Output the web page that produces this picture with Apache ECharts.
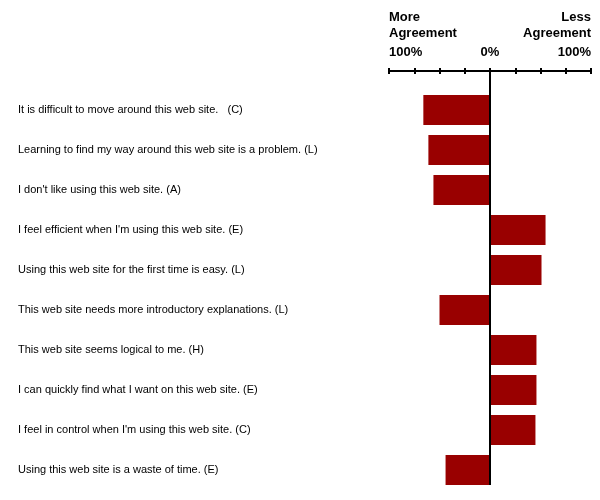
<!DOCTYPE html>
<html>
<head>
<meta charset="utf-8">
<script src="https://cdn.jsdelivr.net/npm/echarts@6/dist/echarts.min.js"></script>
<style>html,body{margin:0;padding:0;background:#fff}#c{width:600px;height:500px}</style>
</head>
<body>
<div id="c"></div>
<script>
var categories = [
  "It is difficult to move around this web site.   (C)",
  "Learning to find my way around this web site is a problem. (L)",
  "I don't like using this web site. (A)",
  "I feel efficient when I'm using this web site. (E)",
  "Using this web site for the first time is easy. (L)",
  "This web site needs more introductory explanations. (L)",
  "This web site seems logical to me. (H)",
  "I can quickly find what I want on this web site. (E)",
  "I feel in control when I'm using this web site. (C)",
  "Using this web site is a waste of time. (E)"
];
var values = [-66, -61, -56, 55, 51, -50, 46, 46, 45, -44];
var tickLabelValues = [-100, 0, 100];
var leftHeader = "More\nAgreement";
var rightHeader = "Less\nAgreement";

var chart = echarts.init(document.getElementById('c'), null, {renderer: 'canvas'});
var F = 'Liberation Sans, Arial, sans-serif';
var baseX = {
  type: 'value', min: -100, max: 100, interval: 25, position: 'top',
  splitLine: {show: false}
};
chart.setOption({
  animation: false,
  backgroundColor: '#fff',
  graphic: [
    {type: 'text', x: 389, y: 9,
     style: {text: leftHeader, font: 'bold 13px ' + F, fill: '#000', lineHeight: 16, align: 'left', verticalAlign: 'top'}},
    {type: 'text', x: 591, y: 9,
     style: {text: rightHeader, font: 'bold 13px ' + F, fill: '#000', lineHeight: 16, align: 'right', verticalAlign: 'top'}}
  ],
  grid: {left: 389, right: 9, top: 90, bottom: 10, containLabel: false},
  xAxis: [
    Object.assign({}, baseX, {
      offset: 19,
      axisLine: {show: true, lineStyle: {color: '#000', width: 2}},
      axisTick: {show: true, inside: false, length: 3, lineStyle: {color: '#000', width: 2}},
      axisLabel: {show: true, customValues: tickLabelValues, margin: 12,
        alignMinLabel: 'left', alignMaxLabel: 'right',
        fontFamily: F, fontSize: 13, fontWeight: 'bold', color: '#000',
        formatter: function (v) { return Math.abs(v) + '%'; }}
    }),
    Object.assign({}, baseX, {
      offset: 19, z: 5,
      axisLine: {show: false},
      axisTick: {show: true, inside: true, length: 3, lineStyle: {color: '#000', width: 2}},
      axisLabel: {show: false}
    }),
    Object.assign({}, baseX, {
      offset: 19, z: 6,
      axisLine: {show: false},
      axisTick: {show: true, inside: true, length: 414, customValues: [0], lineStyle: {color: '#000', width: 2}},
      axisLabel: {show: false}
    })
  ],
  yAxis: {
    type: 'category', data: categories, inverse: true, position: 'left',
    axisLine: {show: false}, axisTick: {show: false}, splitLine: {show: false},
    axisLabel: {align: 'left', margin: 371, fontFamily: F, fontSize: 11, color: '#000'}
  },
  series: [{
    type: 'bar', data: values, xAxisIndex: 0, barWidth: '75%',
    itemStyle: {color: '#990000'}
  }]
});
</script>
</body>
</html>
